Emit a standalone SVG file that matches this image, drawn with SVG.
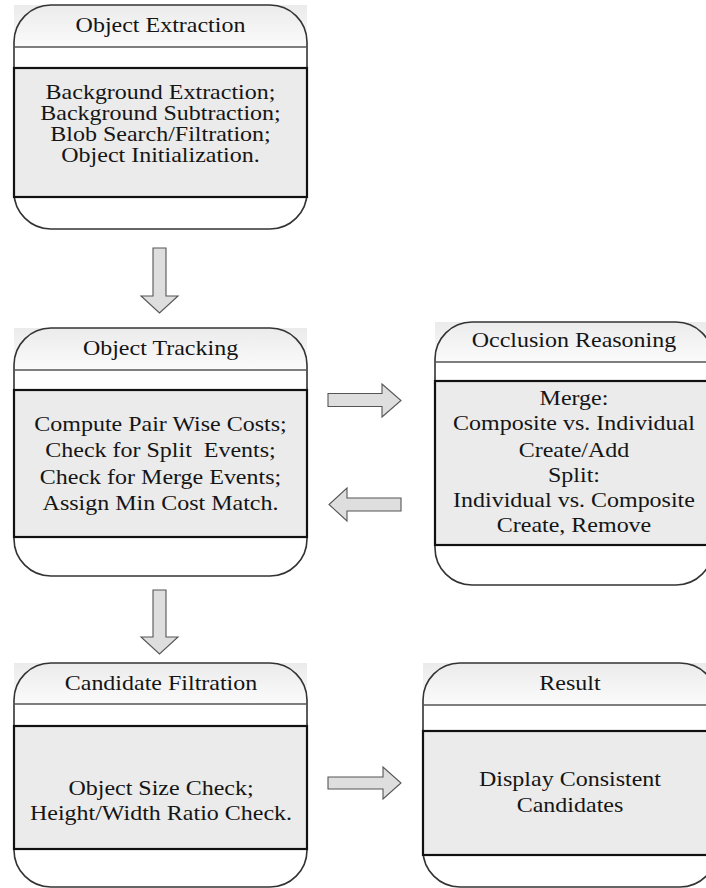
<svg xmlns="http://www.w3.org/2000/svg" width="706" height="888" viewBox="0 0 706 888">
<defs>
<linearGradient id="hg" x1="0" y1="0" x2="0" y2="1">
<stop offset="0" stop-color="#ebebeb"/>
<stop offset="1" stop-color="#fbfbfb"/>
</linearGradient>
<style>
.hdr{fill:url(#hg);}
.body{fill:#ebebeb;stroke:#111;stroke-width:2.2;}
.outline{fill:none;stroke:#333;stroke-width:1.6;}
.hline{stroke:#555;stroke-width:1.5;}
.t{font-family:"Liberation Serif","Times New Roman",serif;font-size:20px;fill:#151515;text-anchor:middle;white-space:pre;}
.arrow{fill:#dedede;stroke:#555;stroke-width:1.1;stroke-linejoin:miter;}
</style>
</defs>
<rect width="706" height="888" fill="#ffffff"/>

<g id="object-extraction">
<rect class="hdr" x="14" y="5" width="293" height="42"/>
<rect class="outline" x="14" y="5" width="293" height="224" rx="37" ry="37"/>
<line class="hline" x1="14" y1="47" x2="307" y2="47"/>
<rect class="body" x="14" y="68" width="293" height="129"/>
<g transform="translate(160.5,0) scale(1.2,1)">
<text class="t" x="0" y="32">Object Extraction</text>
<text class="t" x="0" y="99">Background Extraction;</text>
<text class="t" x="0" y="120">Background Subtraction;</text>
<text class="t" x="0" y="141">Blob Search/Filtration;</text>
<text class="t" x="0" y="162">Object Initialization.</text>
</g>
</g>

<g id="object-tracking">
<rect class="hdr" x="14" y="328" width="293" height="42"/>
<rect class="outline" x="14" y="328" width="293" height="248" rx="37" ry="37"/>
<line class="hline" x1="14" y1="370" x2="307" y2="370"/>
<rect class="body" x="14" y="390" width="293" height="147"/>
<g transform="translate(160.5,0) scale(1.2,1)">
<text class="t" x="0" y="355">Object Tracking</text>
<text class="t" x="0" y="431.5">Compute Pair Wise Costs;</text>
<text class="t" x="0" y="457.5" xml:space="preserve">Check for Split  Events;</text>
<text class="t" x="0" y="484">Check for Merge Events;</text>
<text class="t" x="0" y="510">Assign Min Cost Match.</text>
</g>
</g>

<g id="occlusion-reasoning">
<rect class="hdr" x="435" y="322" width="278" height="40"/>
<rect class="outline" x="435" y="322" width="278" height="263" rx="37" ry="37"/>
<line class="hline" x1="435" y1="362" x2="713" y2="362"/>
<rect class="body" x="435" y="381" width="278" height="164"/>
<g transform="translate(574,0) scale(1.2,1)">
<text class="t" x="0" y="347">Occlusion Reasoning</text>
<text class="t" x="0" y="405">Merge:</text>
<text class="t" x="0" y="430">Composite vs. Individual</text>
<text class="t" x="0" y="457">Create/Add</text>
<text class="t" x="0" y="482">Split:</text>
<text class="t" x="0" y="507">Individual vs. Composite</text>
<text class="t" x="0" y="532">Create, Remove</text>
</g>
</g>

<g id="candidate-filtration">
<rect class="hdr" x="14" y="663" width="293" height="41"/>
<rect class="outline" x="14" y="663" width="293" height="224" rx="37" ry="37"/>
<line class="hline" x1="14" y1="704" x2="307" y2="704"/>
<rect class="body" x="14" y="726" width="293" height="123"/>
<g transform="translate(161,0) scale(1.2,1)">
<text class="t" x="0" y="690">Candidate Filtration</text>
<text class="t" x="0" y="795">Object Size Check;</text>
<text class="t" x="0" y="820">Height/Width Ratio Check.</text>
</g>
</g>

<g id="result">
<rect class="hdr" x="423" y="663" width="294" height="42"/>
<rect class="outline" x="423" y="663" width="294" height="224" rx="37" ry="37"/>
<line class="hline" x1="423" y1="705" x2="717" y2="705"/>
<rect class="body" x="423" y="731" width="294" height="124"/>
<g transform="translate(570,0) scale(1.2,1)">
<text class="t" x="0" y="690">Result</text>
<text class="t" x="0" y="786">Display Consistent</text>
<text class="t" x="0" y="812">Candidates</text>
</g>
</g>

<g id="connectors">
<polygon class="arrow" points="153,248 166,248 166,296 178,296 159.5,313 141,296 153,296"/>
<polygon class="arrow" points="153,590 166,590 166,637 178,637 159.5,654 141,637 153,637"/>
<polygon class="arrow" points="328,393.5 382,393.5 382,384 401,400.5 382,417 382,406.5 328,406.5"/>
<polygon class="arrow" points="401,498 347,498 347,488 329,504.5 347,521 347,511 401,511"/>
<polygon class="arrow" points="328,777 383,777 383,767 401,783 383,799 383,789 328,789"/>
</g>
</svg>
